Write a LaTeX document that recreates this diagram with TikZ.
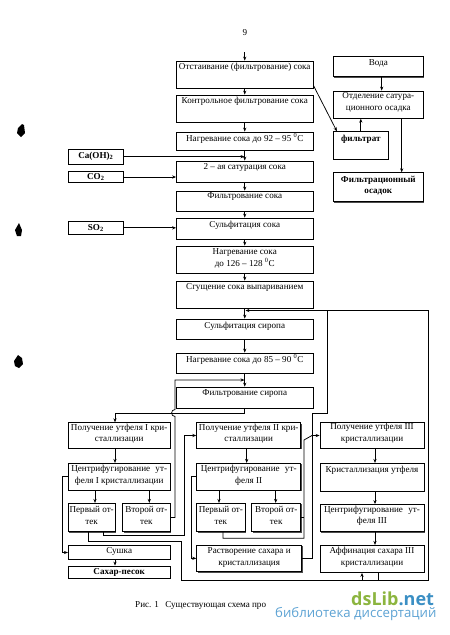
\documentclass[tikz,border=0pt]{standalone}
\usepackage{fontspec}
\setmainfont{Liberation Serif}
\newfontfamily\wmfont{Open Sans}
\usetikzlibrary{arrows.meta,shadows}
\definecolor{wmgreen}{HTML}{8CB53F}
\definecolor{wmblue}{HTML}{3B8FC4}
\definecolor{wmblue2}{HTML}{5DA3D4}
\newcommand\bxx[5]{\node[box, minimum width={(#4-#2)*1pt}, minimum height={(#5-#3)*1pt}] (#1) at ({(#2+#4)/2},{(#3+#5)/2}) {};}
\begin{document}
\begin{tikzpicture}[x=1pt,y=-1pt,
  box/.style={draw, fill=white, line width=0.8pt, inner sep=0pt,
    drop shadow={shadow xshift=0.8pt, shadow yshift=-0.8pt, fill=black!70, opacity=1}},
  txt/.style={font=\fontsize{9.1}{11.5}\selectfont, align=center, inner sep=0pt},
  btxt/.style={txt, font=\fontsize{9.1}{11.5}\selectfont\bfseries},
  arr/.style={-{Stealth[length=4pt,width=3.2pt]}, line width=0.75pt},
  ln/.style={line width=0.75pt},
]
\useasboundingbox (0,0) rectangle (450,635);
\fill[white] (0,0) rectangle (450,635);

% page number
\node[txt] (pg) at (245,33) {9};

% main column
\bxx{b1}{176.5}{61}{313}{88}
\node[txt] (t1) at (244.75,67) {Отстаивание (фильтрование) сока};
\bxx{b2}{176.5}{95}{313}{122}
\node[txt] (t2) at (244.75,101) {Контрольное фильтрование сока};
\bxx{b3}{176.5}{132}{313}{150}
\node[txt] (t3) at (244.75,138.5) {Нагревание сока до 92 – 95 \textsuperscript{0}C};
\bxx{b4}{176.5}{161}{313}{182}
\node[txt] (t4) at (244.75,167) {2 – ая сатурация сока};
\bxx{b5}{176.5}{191}{313}{211}
\node[txt] (t5) at (244.75,196.5) {Фильтрование сока};
\bxx{b6}{176.5}{218}{313}{239}
\node[txt] (t6) at (244.75,225) {Сульфитация сока};
\bxx{b7}{176.5}{246}{313}{273}
\node[txt] (t7) at (244.75,258.5) {Нагревание сока\\до 126 – 128 \textsuperscript{0}C};
\bxx{b8}{176.5}{281}{313}{308}
\node[txt] (t8) at (244.75,287) {Сгущение сока выпариванием};
\bxx{b9}{176.5}{319}{313}{339.5}
\node[txt] (t9) at (244.75,326) {Сульфитация сиропа};
\bxx{b10}{176.5}{353}{313}{373}
\node[txt] (t10) at (244.75,359.5) {Нагревание сока до 85 – 90 \textsuperscript{0}C};
\bxx{b11}{176.5}{387}{313}{408}
\node[txt] (t11) at (244.75,393.5) {Фильтрование сиропа};

% right column
\bxx{r1}{333.3}{56}{423.3}{76.7}
\node[txt] (tr1) at (378.3,63.5) {Вода};
\bxx{r2}{333.3}{91}{423.3}{118.3}
\node[txt] (tr2) at (378.3,102.5) {Отделение сатура-\\ционного осадка};
\bxx{r3}{333.3}{131.7}{388.3}{159.3}
\node[btxt] (tr3) at (360.8,139) {фильтрат};
\bxx{r4}{333.3}{172.7}{423.3}{201.7}
\node[btxt] (tr4) at (378.3,185.5) {Фильтрационный\\осадок};

% inputs
\bxx{ca}{68.3}{149.3}{123.3}{164}
\node[btxt] (tca) at (95.8,156.5) {Ca(OH)\textsubscript{2}};
\bxx{co}{68.3}{171.7}{123.3}{182.3}
\node[btxt] (tco) at (95.8,177) {CO\textsubscript{2}};
\bxx{so}{68.3}{221.7}{123.3}{234}
\node[btxt] (tso) at (95.8,228) {SO\textsubscript{2}};

% column I
\bxx{p1}{68.3}{422.7}{170}{448.3}
\node[txt] (tp1) at (119.2,433.5) {Получение утфеля I кри-\\сталлизации};
\bxx{c1}{68.3}{463.3}{170}{490}
\node[txt] (tc1) at (119.2,475.5) {Центрифугирование\hspace{3pt} ут-\\феля I кристаллизации};
\bxx{o11}{68.3}{503.3}{115}{531.7}
\node[txt] (to11) at (91.7,515.5) {Первый от-\\тек};
\bxx{o12}{122.7}{503.3}{170}{531.7}
\node[txt] (to12) at (146.4,515.5) {Второй от-\\тек};
\bxx{s}{68.3}{545.7}{170}{559.3}
\node[txt] (ts) at (119.2,551.5) {Сушка};
\bxx{sp}{68.3}{566}{170}{578.3}
\node[btxt] (tsp) at (119.2,572) {Сахар-песок};

% column II
\bxx{p2}{196.7}{422.7}{300.7}{448.3}
\node[txt] (tp2) at (248.7,433.5) {Получение утфеля II кри-\\сталлизации};
\bxx{c2}{196.7}{463.3}{300.7}{490}
\node[txt] (tc2) at (248.7,475.5) {Центрифугирование\hspace{3pt} ут-\\феля II};
\bxx{o21}{196.7}{503.3}{245}{531.7}
\node[txt] (to21) at (220.9,515.5) {Первый от-\\тек};
\bxx{o22}{251.7}{503.3}{300.7}{531.7}
\node[txt] (to22) at (276.2,515.5) {Второй от-\\тек};
\bxx{rs}{196.7}{545}{301.7}{571.7}
\node[txt] (trs) at (249.2,557.5) {Растворение сахара и\\кристаллизация};

% column III
\bxx{p3}{320}{422.7}{424}{448.3}
\node[txt] (tp3) at (372,433.5) {Получение утфеля III\\кристаллизации};
\bxx{k3}{320}{463.3}{424}{491}
\node[txt] (tk3) at (372,470) {Кристаллизация утфеля};
\bxx{c3}{320}{504.5}{424}{531.7}
\node[txt] (tc3) at (372,516) {Центрифугирование\hspace{3pt} ут-\\феля III};
\bxx{a3}{320}{545.3}{424}{572.5}
\node[txt] (ta3) at (372,557.5) {Аффинация сахара III\\кристаллизации};

% guide coordinates
\coordinate (g88) at (88,0);
\coordinate (g95) at (95,0);
\coordinate (g103) at (103,0);
\coordinate (g115) at (115,0);
\coordinate (g149) at (149.3,0);
\coordinate (g219) at (219,0);
\coordinate (g223) at (223,0);
\coordinate (g247) at (246.7,0);
\coordinate (g276) at (275.7,0);
\coordinate (g362) at (362,0);
\coordinate (g375) at (375,0);
\coordinate (g378) at (378,0);
\coordinate (g382) at (381.7,0);
\coordinate (g402) at (401.7,0);

% junction coordinates
\coordinate (top) at (244.75,52);
\coordinate (jca) at (244.5,156.65);
\coordinate (j89) at (245.5,310.5);
\coordinate (j1011) at (244.5,380);
\coordinate (j3) at (312,435.5);
\coordinate (j362) at (362,580);
\coordinate (j378) at (378,580);

% main flow
\draw[arr] (top) -- (b1.north);
\foreach \a/\b in {b1/b2,b2/b3,b3/b4,b4/b5,b5/b6,b6/b7,b7/b8,b8/b9,b9/b10,b10/b11}
  \draw[arr] (\a.south) -- (\b.north);

% inputs
\draw[arr] (ca.east) -- (jca);
\draw[arr] (co.east) -- (co.east -| b4.west);
\draw[arr] (so.east) -- (so.east -| b6.west);

% right part
\draw[arr] ([yshift=3pt]b1.south east) -- ([xshift=4pt]r3.north west);
\draw[arr] (g382 |- r1.south) -- (g382 |- r2.north);
\draw[arr] (r3.north) -- (r3.north |- r2.south);
\draw[arr] (g402 |- r2.south) -- (g402 |- r4.north);

% syrup filtration to column I
\draw[arr] (b11.south) -- ++(0,5) -| (g115 |- p1.north);

% column I
\draw[arr] (g115 |- p1.south) -- (g115 |- c1.north);
\draw[arr] (g95 |- c1.south) -- (g95 |- o11.north);
\draw[arr] (g149 |- c1.south) -- (g149 |- o12.north);
\draw[arr] (c1.west) -- ++(-5.6,0) |- (s.west);
\draw[arr] (g115 |- s.south) -- (g115 |- sp.north);

% second runoff I back to syrup filtration (with hop)
\draw[arr] (o12.east) -- (175,517.5) -- (175,416.5)
  .. controls (170.5,416.5) and (170.5,409.5) .. (175,409.5) -- (175,380) -- (j1011);

% first runoff I to column II
\draw[arr] (g103 |- o11.south) |- (184,535.5) |- (p2.west);

% first runoff I to bottom line and recycle
\draw[arr] (g88 |- o11.south) |- (181,541.7) |- (428,580) |- (j89);
\draw[arr] (j362) -- (g362 |- a3.south);
\draw[ln] (g378 |- a3.south) -- (j378);

% column II
\draw[arr] (g247 |- p2.south) -- (g247 |- c2.north);
\draw[arr] (g219 |- c2.south) -- (g219 |- o21.north);
\draw[arr] (g276 |- c2.south) -- (g276 |- o22.north);
\draw[arr] (c2.west) -- ++(-5,0) |- (rs.west);

% to column III
\draw[ln] (rs.east) -| (312,413) -| (327,310.5);
\draw[ln] (g223 |- o21.south) |- (304,538.3) -- (304,440) -- (j3);
\draw[ln] (o22.east) -- ++(3.3,0);
\draw[arr] (j3) -- (p3.west);

% column III
\draw[arr] (g375 |- p3.south) -- (g375 |- k3.north);
\draw[arr] (g375 |- k3.south) -- (g375 |- c3.north);
\draw[arr] (g375 |- c3.south) -- (g375 |- a3.north);

% punch marks
\fill (18,128) -- (22,124) -- (24,125) -- (25,133) -- (21,137) -- (17,133) -- cycle;
\fill (15,230) -- (19,223) -- (22,230) -- (21,236) -- (17,236) -- cycle;
\fill (14,361) -- (18,355) -- (22,358) -- (23,364) -- (19,368) -- (15,366) -- cycle;

% caption
\node[txt, anchor=west] (cap) at (135,605) {Рис. 1\hspace{4pt} Существующая схема про};

% watermark
\node[anchor=west, inner sep=0pt] (wm1) at (351,598.5)
  {\wmfont\bfseries\fontsize{18}{18}\selectfont\textcolor{wmgreen}{dsLib}\textcolor{wmblue}{.net}};
\node[anchor=west, inner sep=0pt] (wm2) at (275,614.5)
  {\wmfont\fontsize{13.2}{13.2}\selectfont\textcolor{wmblue2}{библиотека диссертаций}};
\end{tikzpicture}
\end{document}
